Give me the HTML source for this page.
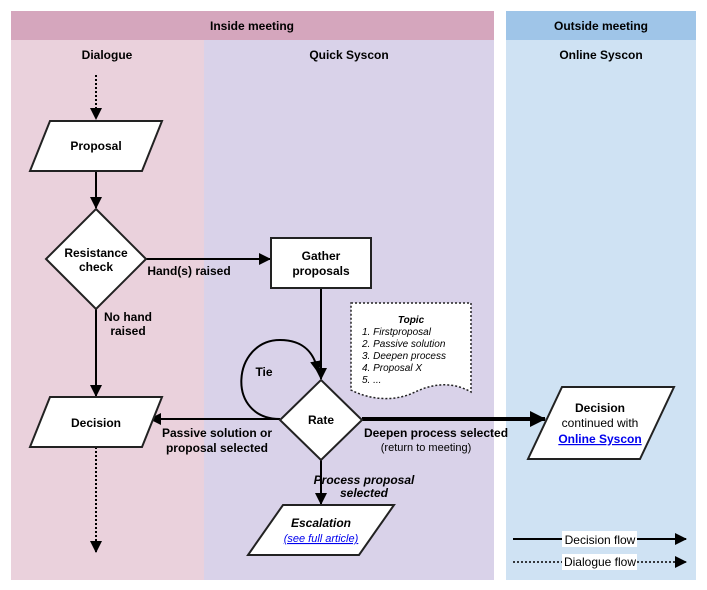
<!DOCTYPE html>
<html><head><meta charset="utf-8"><style>
body{margin:0;background:#fff}
svg{display:block;font-family:"Liberation Sans",Arial,sans-serif}
</style></head><body>
<svg width="707" height="590" viewBox="0 0 707 590" xmlns="http://www.w3.org/2000/svg">
<defs>
<marker id="a" markerWidth="12" markerHeight="12" refX="11" refY="6" orient="auto" markerUnits="userSpaceOnUse"><path d="M0,0 L12,6 L0,12 z" fill="#000"/></marker>
<marker id="b" markerWidth="16" markerHeight="16" refX="15" refY="8" orient="auto" markerUnits="userSpaceOnUse"><path d="M0,0 L16,8 L0,16 z" fill="#000"/></marker>
</defs>
<rect x="11" y="11" width="483" height="29" fill="#d5a6bd"/>
<rect x="506" y="11" width="190" height="29" fill="#9fc5e8"/>
<rect x="11" y="40" width="193" height="540" fill="#ead1dc"/>
<rect x="204" y="40" width="290" height="540" fill="#d9d2e9"/>
<rect x="506" y="40" width="190" height="540" fill="#cfe2f3"/>
<g font-size="12" font-weight="bold" text-anchor="middle">
<text x="252" y="30">Inside meeting</text>
<text x="601" y="30">Outside meeting</text>
<text x="107" y="59">Dialogue</text>
<text x="349" y="59">Quick Syscon</text>
<text x="601" y="59">Online Syscon</text>
</g>
<g stroke="#000" stroke-width="2" fill="none">
<line x1="96" y1="75" x2="96" y2="119" stroke-dasharray="2,2" marker-end="url(#a)"/>
<line x1="96" y1="171" x2="96" y2="208" marker-end="url(#a)"/>
<line x1="146" y1="259" x2="270" y2="259" marker-end="url(#a)"/>
<line x1="321" y1="288" x2="321" y2="379" marker-end="url(#a)"/>
<line x1="96" y1="309" x2="96" y2="396" marker-end="url(#a)"/>
<line x1="96" y1="447" x2="96" y2="552" stroke-dasharray="2,2" marker-end="url(#a)"/>
<line x1="280" y1="419" x2="150" y2="419" marker-end="url(#a)"/>
<path d="M280,419 C225,419 232,340 280,340 C305,340 315,355 318,372" marker-end="url(#a)"/>
<line x1="362" y1="419" x2="545" y2="419" stroke-width="4" marker-end="url(#b)"/>
<line x1="321" y1="460" x2="321" y2="504" marker-end="url(#a)"/>
<line x1="513" y1="539" x2="686" y2="539" marker-end="url(#a)"/>
<line x1="513" y1="562" x2="686" y2="562" stroke-dasharray="2,2" stroke-width="1.5" marker-end="url(#a)"/>
</g>
<g stroke="#222" stroke-width="2" fill="#fff">
<polygon points="50,121 162,121 142,171 30,171"/>
<polygon points="96,209 146,259 96,309 46,259"/>
<rect x="271" y="238" width="100" height="50"/>
<polygon points="321,380 362,420 321,460 280,420"/>
<polygon points="50,397 162,397 142,447 30,447"/>
<polygon points="562,387 674,387 640,459 528,459"/>
<polygon points="283,505 394,505 359,555 248,555"/>
<path d="M351,303 L471,303 L471,392 C450,380 430,385 415,392 C395,402 370,400 351,390 Z" stroke-width="1.5" stroke-dasharray="2,2"/>
</g>
<rect x="562" y="531" width="75" height="16" fill="#fff"/>
<rect x="562" y="554" width="75" height="16" fill="#fff"/>
<g font-size="12" text-anchor="middle">
<text x="96" y="150" font-weight="bold">Proposal</text>
<text x="96" y="257" font-weight="bold">Resistance</text>
<text x="96" y="271" font-weight="bold">check</text>
<text x="189" y="275" font-weight="bold">Hand(s) raised</text>
<text x="321" y="260" font-weight="bold">Gather</text>
<text x="321" y="275" font-weight="bold">proposals</text>
<text x="128" y="321" font-weight="bold">No hand</text>
<text x="128" y="335" font-weight="bold">raised</text>
<text x="264" y="376" font-weight="bold">Tie</text>
<text x="321" y="424" font-weight="bold">Rate</text>
<text x="96" y="427" font-weight="bold">Decision</text>
<text x="217" y="437" font-weight="bold">Passive solution or</text>
<text x="217" y="452" font-weight="bold">proposal selected</text>
<text x="436" y="437" font-weight="bold">Deepen process selected</text>
<text x="426" y="451" font-size="11">(return to meeting)</text>
<text x="364" y="484" font-weight="bold" font-style="italic">Process proposal</text>
<text x="364" y="497" font-weight="bold" font-style="italic">selected</text>
<text x="321" y="527" font-weight="bold" font-style="italic">Escalation</text>
<text x="321" y="542" font-size="11" font-style="italic" fill="#00e" text-decoration="underline">(see full article)</text>
<text x="600" y="412" font-weight="bold">Decision</text>
<text x="600" y="427">continued with</text>
<text x="600" y="443" font-weight="bold" fill="#00e" text-decoration="underline">Online Syscon</text>
<text x="600" y="544">Decision flow</text>
<text x="600" y="566">Dialogue flow</text>
<text x="411" y="323" font-size="10" font-weight="bold" font-style="italic">Topic</text>
</g>
<g font-size="10" font-style="italic">
<text x="362" y="335">1. Firstproposal</text>
<text x="362" y="347">2. Passive solution</text>
<text x="362" y="359">3. Deepen process</text>
<text x="362" y="371">4. Proposal X</text>
<text x="362" y="383">5. ...</text>
</g>
</svg>
</body></html>
